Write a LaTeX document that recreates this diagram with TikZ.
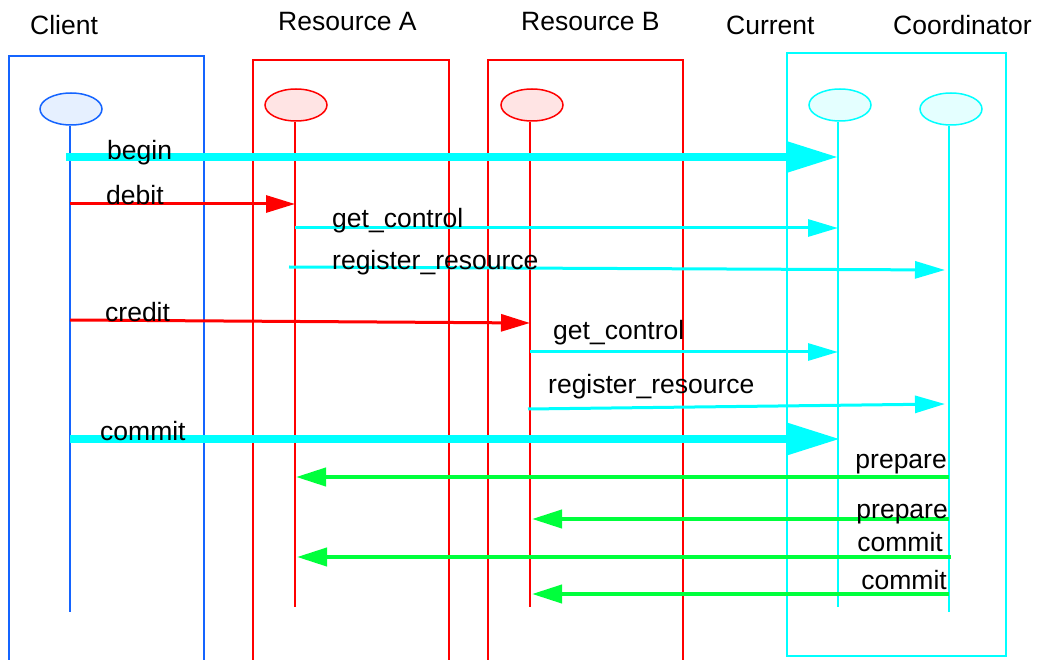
\documentclass[tikz,border=0pt]{standalone}
\usepackage{fontspec}
\setmainfont{Liberation Sans}
\usetikzlibrary{arrows.meta,shapes.geometric}
\definecolor{cblue}{RGB}{20,100,255}
\definecolor{cred}{RGB}{255,0,0}
\definecolor{ccyan}{RGB}{0,255,255}
\definecolor{cgreen}{RGB}{0,255,60}
\definecolor{fblue}{RGB}{230,240,255}
\definecolor{fred}{RGB}{255,228,228}
\definecolor{fcyan}{RGB}{228,255,255}
\tikzset{
  lbl/.style={font=\fontsize{26.5}{30}\selectfont, inner sep=0pt},
  obj/.style={ellipse, minimum width=62pt, minimum height=32pt, inner sep=0pt, line width=1.5pt},
  msgthick/.style={ccyan, line width=7.5pt, -{Triangle[length=52pt,width=30pt]}},
  msgcyan/.style={ccyan, line width=3pt, -{Triangle[length=30pt,width=17pt]}},
  msgred/.style={cred, line width=3pt, -{Triangle[length=29pt,width=17pt]}},
  msggreen/.style={cgreen, line width=4pt, -{Triangle[length=30pt,width=18pt]}},
}
\begin{document}
\begin{tikzpicture}[x=1pt,y=-1pt]
\useasboundingbox (0,0) rectangle (1037,660);
% headers
\node[lbl, anchor=base west] (hcl) at (30,35) {Client};
\node[lbl, anchor=base west] (hra) at (278,31) {Resource A};
\node[lbl, anchor=base west] (hrb) at (521,31) {Resource B};
\node[lbl, anchor=base west] (hcu) at (726,35) {Current};
\node[lbl, anchor=base west] (hco) at (893,35) {Coordinator};
% boxes
\draw[cblue, line width=2pt] (9,662) -- (9,56) -- (204,56) -- (204,662);
\draw[cred, line width=1.5pt] (253,662) -- (253,60) -- (449,60) -- (449,662);
\draw[cred, line width=1.5pt] (488,662) -- (488,60) -- (683,60) -- (683,662);
\draw[ccyan, line width=2pt] (787,53) rectangle (1006,656);
% objects
\node[obj, draw=cblue, fill=fblue] (ocl) at (71,109) {};
\node[obj, draw=cred, fill=fred] (ora) at (296,105) {};
\node[obj, draw=cred, fill=fred] (orb) at (532,105) {};
\node[obj, draw=ccyan, fill=fcyan] (ocu) at (840,105) {};
\node[obj, draw=ccyan, fill=fcyan] (oco) at (951,109) {};
% lifeline ends
\coordinate (ecl) at (70,612);
\coordinate (era) at (295,607);
\coordinate (erb) at (530,607);
\coordinate (ecu) at (838,607);
\coordinate (eco) at (949,612);
\draw[cblue, line width=2pt] (ocl.south -| ecl) -- (ecl);
\draw[cred, line width=1.5pt] (ora.south -| era) -- (era);
\draw[cred, line width=1.5pt] (orb.south -| erb) -- (erb);
\draw[ccyan, line width=2pt] (ocu.south -| ecu) -- (ecu);
\draw[ccyan, line width=2pt] (oco.south -| eco) -- (eco);
% message endpoints
\coordinate (m1a) at (66,157);  \coordinate (m1b) at (838,157);
\coordinate (m2a) at (70,204);  \coordinate (m2b) at (295,204);
\coordinate (m3a) at (295,228); \coordinate (m3b) at (838,228);
\coordinate (m4a) at (289,267); \coordinate (m4b) at (945,270);
\coordinate (m5a) at (70,320);  \coordinate (m5b) at (530,323);
\coordinate (m6a) at (530,352); \coordinate (m6b) at (838,352);
\coordinate (m7a) at (528,409); \coordinate (m7b) at (945,404);
\coordinate (m8a) at (70,439);  \coordinate (m8b) at (840,439);
\coordinate (m9a) at (949,477); \coordinate (m9b) at (296,477);
\coordinate (m10a) at (949,519); \coordinate (m10b) at (532,519);
\coordinate (m11a) at (951,557); \coordinate (m11b) at (297,557);
\coordinate (m12a) at (949,594); \coordinate (m12b) at (532,594);
% messages
\draw[msgthick] (m1a) -- (m1b);
\draw[msgred] (m2a) -- (m2b);
\draw[msgcyan] (m3a) -- (m3b);
\draw[msgcyan] (m4a) -- (m4b);
\draw[msgred] (m5a) -- (m5b);
\draw[msgcyan] (m6a) -- (m6b);
\draw[msgcyan] (m7a) -- (m7b);
\draw[msgthick] (m8a) -- (m8b);
\draw[msggreen] (m9a) -- (m9b);
\draw[msggreen] (m10a) -- (m10b);
\draw[msggreen] (m11a) -- (m11b);
\draw[msggreen] (m12a) -- (m12b);
% labels
\node[lbl, anchor=base west] (l1) at (107,160) {begin};
\node[lbl, anchor=base west] (l2) at (106,205) {debit};
\node[lbl, anchor=base west] (l3) at (332,228) {get\_control};
\node[lbl, anchor=base west] (l4) at (332,270) {register\_resource};
\node[lbl, anchor=base west] (l5) at (105,322) {credit};
\node[lbl, anchor=base west] (l6) at (553,340) {get\_control};
\node[lbl, anchor=base west] (l7) at (548,394) {register\_resource};
\node[lbl, anchor=base west] (l8) at (100,441) {commit};
\node[lbl, anchor=base east] (l9) at (947,468) {prepare};
\node[lbl, anchor=base east] (l10) at (948,518) {prepare};
\node[lbl, anchor=base east] (l11) at (943,551) {commit};
\node[lbl, anchor=base east] (l12) at (947,589) {commit};
\end{tikzpicture}
\end{document}
